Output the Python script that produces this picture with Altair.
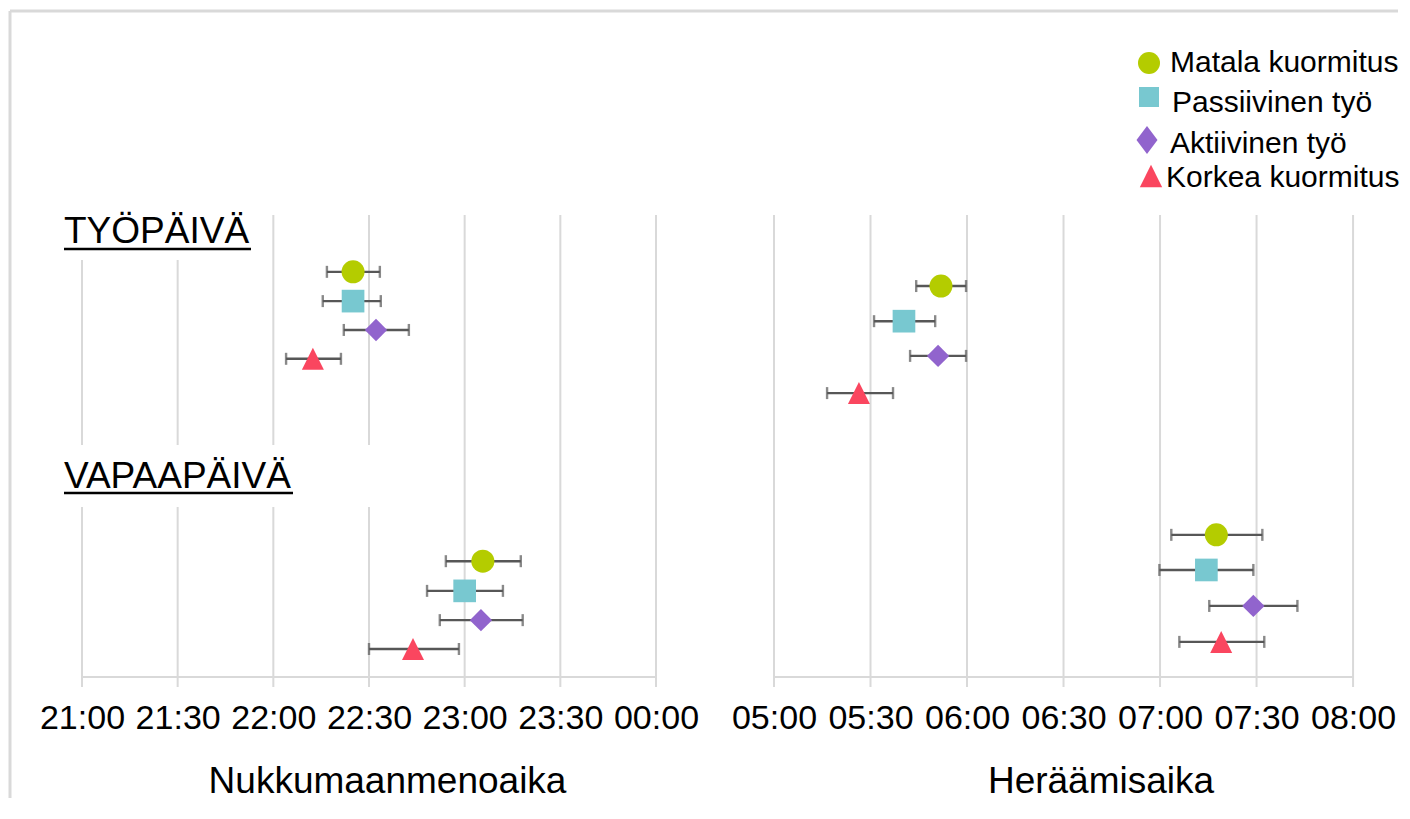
import altair as alt
import pandas as pd

FONT = "Liberation Sans"

groups = ["Matala kuormitus", "Passiivinen työ", "Aktiivinen työ", "Korkea kuormitus"]
colors = ["#b4cc00", "#78c8d0", "#9164cd", "#fa465f"]
shapes = ["circle", "square", "diamond", "M0,-1L1,1L-1,1Z"]
sizes = [529, 484, 441, 441]

# Nukkumaanmenoaika (bedtime), minutes after 21:00
bed_work_mean = [85.0, 85.0, 92.2, 72.4]
bed_work_lo = [76.8, 75.5, 82.1, 64.0]
bed_work_hi = [93.4, 93.7, 102.5, 81.2]
bed_free_mean = [125.7, 120.0, 125.1, 103.8]
bed_free_lo = [114.1, 108.2, 112.2, 90.0]
bed_free_hi = [137.6, 132.0, 138.2, 118.2]

# Heräämisaika (wake time), minutes after 05:00
wake_work_mean = [51.9, 40.4, 51.0, 26.4]
wake_work_lo = [44.2, 31.1, 42.3, 16.5]
wake_work_hi = [59.7, 50.1, 59.7, 37.0]
wake_free_mean = [137.5, 134.4, 149.0, 139.0]
wake_free_lo = [123.5, 119.8, 135.3, 126.0]
wake_free_hi = [151.8, 149.0, 162.7, 152.4]

# vertical positions of the rows (scatter y-values)
bed_work_row = [9.69, 8.99, 8.30, 7.61]
bed_free_row = [2.77, 2.06, 1.36, 0.67]
wake_work_row = [9.35, 8.51, 7.68, 6.79]
wake_free_row = [3.40, 2.56, 1.70, 0.84]

tick_minutes = [0, 30, 60, 90, 120, 150, 180]


def table(mean, lo, hi, row):
    return pd.DataFrame({"group": groups, "mean": mean, "lo": lo, "hi": hi, "row": row})


bed_df = pd.concat([table(bed_work_mean, bed_work_lo, bed_work_hi, bed_work_row),
                    table(bed_free_mean, bed_free_lo, bed_free_hi, bed_free_row)])
wake_df = pd.concat([table(wake_work_mean, wake_work_lo, wake_work_hi, wake_work_row),
                     table(wake_free_mean, wake_free_lo, wake_free_hi, wake_free_row)])
ticks_df = pd.DataFrame({"t": tick_minutes})
one = pd.DataFrame({"a": [0]})

GRID = "#d9d9d9"
EBAR = "#575757"
yscale = alt.Scale(domain=[0, 16], nice=False, zero=False)
color_enc = alt.Color("group:N", scale=alt.Scale(domain=groups, range=colors), legend=None)
shape_enc = alt.Shape("group:N", scale=alt.Scale(domain=groups, range=shapes), legend=None)
size_enc = alt.Size("group:O", scale=alt.Scale(domain=groups, range=sizes), legend=None)


def panel(df, base_hour, xmax, width, title, title_x, extra_back, extra_front):
    xscale = alt.Scale(domain=[0, xmax], nice=False, zero=False)
    x_axis = alt.Axis(
        values=tick_minutes, grid=False, domain=False, ticks=False, tickSize=0,
        labelExpr=f"timeFormat(datetime(2000,0,1,{base_hour},datum.value),'%H:%M')",
        labelFont=FONT, labelFontSize=34, labelColor="black", labelPadding=51,
        labelBaseline="alphabetic", labelOverlap=False, labelFlush=False,
        title=title, titleFont=FONT, titleFontSize=37, titleFontWeight="normal",
        titleColor="black", titleX=title_x, titleY=115, titleAlign="center",
        titleBaseline="alphabetic",
    )
    yenc = alt.Y("row:Q", scale=yscale, axis=None)
    grid = alt.Chart(ticks_df).mark_rule(color=GRID, strokeWidth=2).encode(
        x=alt.X("t:Q", scale=xscale, axis=x_axis),
        y=alt.value(207), y2=alt.value(679),
    )
    base_line = alt.Chart(one).mark_rule(color=GRID, strokeWidth=2).encode(
        x=alt.datum(0, scale=xscale, axis=x_axis), x2=alt.datum(180), y=alt.value(669),
    )
    base = alt.Chart(df)
    bar = base.mark_rule(color=EBAR, strokeWidth=2.4).encode(
        x=alt.X("lo:Q", scale=xscale, axis=x_axis), x2="hi:Q", y=yenc,
    )
    cap_lo = base.mark_tick(color=EBAR, orient="vertical", size=12, thickness=2.4).encode(
        x=alt.X("lo:Q", scale=xscale, axis=x_axis), y=yenc,
    )
    cap_hi = base.mark_tick(color=EBAR, orient="vertical", size=12, thickness=2.4).encode(
        x=alt.X("hi:Q", scale=xscale, axis=x_axis), y=yenc,
    )
    pts = base.mark_point(filled=True, opacity=1, strokeWidth=0).encode(
        x=alt.X("mean:Q", scale=xscale, axis=x_axis), y=yenc,
        color=color_enc, shape=shape_enc, size=size_enc,
    )
    layers = [grid, base_line] + extra_back + [bar, cap_lo, cap_hi, pts] + extra_front
    return alt.layer(*layers).properties(width=width, height=669)


def deco_text(txt, x, y, size, clip=False):
    return alt.Chart(one).mark_text(
        align="left", baseline="alphabetic", font=FONT, fontSize=size, color="black", clip=clip
    ).encode(x=alt.value(x), y=alt.value(y), text=alt.value(txt))


def deco_rule(x, x2, y, y2, color, w):
    return alt.Chart(one).mark_rule(color=color, strokeWidth=w).encode(
        x=alt.value(x), x2=alt.value(x2), y=alt.value(y), y2=alt.value(y2)
    )


def white_box(x, x2, y, y2):
    return alt.Chart(one).mark_rect(color="white").encode(
        x=alt.value(x), x2=alt.value(x2), y=alt.value(y), y2=alt.value(y2)
    )


left_back = [white_box(-20, 178, 207, 252), white_box(-20, 290, 437, 499)]
left_front = [
    deco_text("TYÖPÄIVÄ", -18, 235, 37),
    deco_rule(-18, 169, 241, 241, "black", 2.5),
    deco_text("VAPAAPÄIVÄ", -18, 480, 37),
    deco_rule(-18, 211, 485, 485, "black", 2.5),
    deco_rule(-72, -72, 3, 790, GRID, 3),
    deco_rule(-72, 1316, 3, 3, GRID, 3),
]

legend_marks = [(375, 55), (375, 89), (373, 132), (377, 168)]
legend_shapes = ["circle", "square", "M0,-1L0.75,0L0,1L-0.75,0Z", "M0,-1L1,1L-1,1Z"]
legend_sizes = [484, 400, 784, 500]
legend_text = [(396, 64), (398, 104), (396, 145), (392, 179)]
right_front = []
for i, g in enumerate(groups):
    mx, my = legend_marks[i]
    right_front.append(
        alt.Chart(one).mark_point(
            filled=True, opacity=1, strokeWidth=0, shape=legend_shapes[i],
            size=legend_sizes[i], color=colors[i]
        ).encode(x=alt.value(mx), y=alt.value(my))
    )
    tx, ty = legend_text[i]
    right_front.append(deco_text(g, tx, ty, 30))

left = panel(bed_df, 21, 180, 574, "Nukkumaanmenoaika", 305, left_back, left_front)
right = panel(wake_df, 5, 194.9, 627, "Heräämisaika", 326.5, [], right_front)

chart = alt.hconcat(left, right, spacing=118, bounds="flush").properties(
    padding=0
).configure_view(stroke=None)

chart.save("out.html", embed_options={"renderer": "svg", "actions": False})
